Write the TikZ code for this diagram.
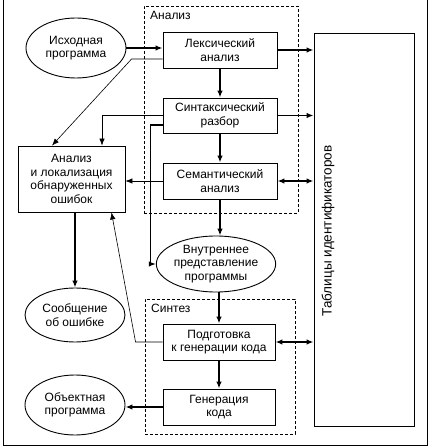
\documentclass[tikz,border=0pt]{standalone}
\usepackage{fontspec}
\setmainfont{Liberation Sans}
\usetikzlibrary{arrows.meta,shapes.geometric}
\begin{document}
\begin{tikzpicture}[x=1bp,y=-1bp,
  every node/.style={font=\fontsize{12bp}{13.5bp}\selectfont, align=center, inner sep=0pt},
  blk/.style={draw, line width=0.9bp, rectangle},
  ell/.style={draw, line width=0.9bp, ellipse},
  grp/.style={draw, dashed, dash pattern=on 3bp off 2bp, line width=0.8bp},
  tip/.style={-{Latex[length=7bp,width=5.5bp]}},
  dtip/.style={{Latex[length=7bp,width=5.5bp]}-{Latex[length=7bp,width=5.5bp]}},
  thk/.style={line width=1.6bp},
  thn/.style={line width=0.6bp}]
\useasboundingbox (0,0) rectangle (430,447);
% outer frame
\draw[line width=1bp] (3,0) -- (3,445) -- (427,445) -- (427,0);
% groups
\node[grp, minimum width=154bp, minimum height=207bp] (anbox) at (221,109.5) {};
\node[anchor=north west] (anlab) at (150,11) {Анализ};
\node[grp, minimum width=150bp, minimum height=135bp] (synbox) at (220,366.5) {};
\node[anchor=north west] (synlab) at (151,304) {Синтез};
% blocks
\node[blk, minimum width=114bp, minimum height=36bp] (lex) at (220,50) {Лексический\\анализ};
\node[blk, minimum width=114bp, minimum height=35bp] (synt) at (220,115.5) {Синтаксический\\разбор};
\node[blk, minimum width=114bp, minimum height=36bp] (sem) at (220,181) {Семантический\\анализ};
\node[blk, minimum width=112bp, minimum height=36bp] (prep) at (219,342) {Подготовка\\к генерации кода};
\node[blk, minimum width=112bp, minimum height=36bp] (gen) at (219,407) {Генерация\\кода};
\node[blk, minimum width=100bp, minimum height=393bp] (tab) at (364,229.5) {};
\node[rotate=90, font=\fontsize{13.5bp}{15bp}\selectfont] (tablab) at (328,231) {Таблицы идентификаторов};
\node[blk, minimum width=107bp, minimum height=66bp] (err) at (71.5,179) {Анализ\\и локализация\\обнаруженных\\ошибок};
% ellipses
\node[ell, minimum width=100bp, minimum height=60bp] (src) at (76,48) {Исходная\\программа};
\node[ell, minimum width=100bp, minimum height=54bp] (msg) at (75,315) {Сообщение\\об ошибке};
\node[ell, minimum width=92bp, minimum height=56bp] (int) at (216,264) {Внутреннее\\представление\\программы};
\node[ell, minimum width=100bp, minimum height=60bp] (obj) at (75,405) {Объектная\\программа};
% connectors
\draw[thk,tip] (src.east) -- (src.east -| lex.west);
\draw[thn,tip] ([yshift=-9bp]lex.west) -- ++(-31,0) -- ([xshift=-19.5bp]err.north);
\draw[thk,tip] (lex.east) -- (lex.east -| tab.west);
\draw[thk,tip] (lex) -- (synt);
\draw[thk,tip] (synt.east) -- (synt.east -| tab.west);
\draw[thn,tip] (synt.west) -| ([xshift=30.5bp]err.north);
\draw[thk,tip] ([yshift=-9.5bp]synt.west) -- ++(-12,0) |- (int.west);
\draw[thk,tip] (synt) -- (sem);
\draw[thn,tip] (sem.west) -- (sem.west -| err.east);
\draw[thk,dtip] (sem.east) -- (sem.east -| tab.west);
\draw[thk,tip] (sem.south) -- (sem.south |- int.north);
\draw[thk,tip] (int.south -| prep.north) -- (prep.north);
\draw[thk,dtip] (prep.east) -- (prep.east -| tab.west);
\draw[thn,tip] (prep.west) -- ++(-27,0) -- ([xshift=40bp]err.south);
\draw[thk,tip] (msg.north |- err.south) -- (msg.north);
\draw[thk,tip] (prep) -- (gen);
\draw[thk,tip] (gen.west) -- (gen.west -| obj.east);
\end{tikzpicture}
\end{document}
